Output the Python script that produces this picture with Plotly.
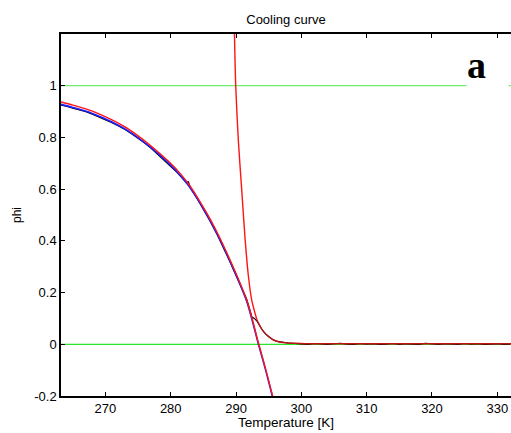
import plotly.graph_objects as go

# ---- data ----
T_fit = [263.2, 265, 268, 271, 273.3, 276.8, 279.9, 281.5, 283, 285.5, 287, 288, 290.1, 291.6, 292.5, 293.4, 294.5, 295.6]
phi_blue = [0.928, 0.916, 0.893, 0.860, 0.828, 0.764, 0.695, 0.652, 0.604, 0.502, 0.432, 0.380, 0.262, 0.168, 0.090, 0.003, -0.097, -0.205]
phi_red_fit = [0.937, 0.925, 0.902, 0.868, 0.836, 0.771, 0.702, 0.659, 0.611, 0.508, 0.438, 0.386, 0.268, 0.174, 0.096, 0.008, -0.092, -0.200]

T_steep = [289.72, 289.95, 290.35, 290.87, 291.4, 291.9, 292.4, 293.2, 294.2, 295.7, 296.5, 297.5, 299.0, 301.0, 305.0, 315.0, 332.1]
phi_steep = [1.25, 1.0, 0.79, 0.597, 0.403, 0.262, 0.171, 0.094, 0.049, 0.017, 0.010, 0.006, 0.004, 0.002, 0.002, 0.002, 0.002]

T_data = [263.2, 264, 265, 266, 267, 268, 269, 270, 271, 272, 273, 274, 275, 276, 277, 278, 279, 280, 281, 282,
          282.5, 282.7, 283, 284, 285, 286, 287, 288, 289, 290, 291, 291.6, 292.1, 292.4, 292.8, 293.2, 293.9,
          294.5, 295, 295.7, 296.5, 297.2, 298, 299,
          300, 301, 302, 303, 304, 305, 306, 307, 308, 309, 310, 311, 312, 313, 314, 315, 316, 317, 318, 319,
          320, 321, 322, 323, 324, 325, 326, 327, 328, 329, 330, 331, 332]
phi_data = [0.925, 0.921, 0.913, 0.907, 0.900, 0.890, 0.880, 0.869, 0.857, 0.844, 0.831, 0.814, 0.797, 0.778, 0.758, 0.735, 0.713, 0.690, 0.664, 0.636,
            0.624, 0.630, 0.604, 0.566, 0.524, 0.478, 0.430, 0.378, 0.323, 0.266, 0.208, 0.176, 0.135, 0.107, 0.100, 0.090, 0.060,
            0.040, 0.030, 0.017, 0.010, 0.007, 0.005, 0.003,
            0.002, 0.000, 0.003, 0.001, 0.000, 0.002, 0.004, 0.001, 0.000, 0.003, 0.001, 0.002, 0.000, 0.001, 0.003, 0.000, 0.002, 0.001, 0.000, 0.004,
            0.001, 0.000, 0.002, 0.001, 0.000, 0.003, 0.001, 0.002, 0.000, 0.001, 0.002, 0.000, 0.001]

x_range = [263.2, 332.1]
y_range = [-0.2, 1.2]
phi_levels = [0, 1]
x_ticks = [270, 280, 290, 300, 310, 320, 330]
y_ticks = [-0.2, 0, 0.2, 0.4, 0.6, 0.8, 1]
y_ticktext = ["-0.2", "0", "0.2", "0.4", "0.6", "0.8", "1"]

FONT = "Arial, 'Liberation Sans', sans-serif"

fig = go.Figure()

# green reference levels
fig.add_trace(go.Scatter(x=x_range, y=[phi_levels[1]] * 2, mode="lines",
                         line=dict(color="rgb(110,240,110)", width=1.2), hoverinfo="skip"))
fig.add_trace(go.Scatter(x=x_range, y=[phi_levels[0]] * 2, mode="lines",
                         line=dict(color="rgb(40,230,40)", width=1.2), hoverinfo="skip"))

# measured data (black)
fig.add_trace(go.Scatter(x=T_data, y=phi_data, mode="lines",
                         line=dict(color="black", width=1.2)))
# fits
fig.add_trace(go.Scatter(x=T_fit, y=phi_blue, mode="lines", line_shape="spline",
                         line=dict(color="rgb(30,30,255)", width=1.6, smoothing=0.8)))
fig.add_trace(go.Scatter(x=T_fit, y=phi_red_fit, mode="lines", line_shape="spline",
                         line=dict(color="rgb(255,20,20)", width=1.4, smoothing=0.8)))
# steep red branch
n_bright = 7
fig.add_trace(go.Scatter(x=T_steep[:n_bright + 1], y=phi_steep[:n_bright + 1], mode="lines", line_shape="spline",
                         line=dict(color="rgb(255,20,20)", width=1.4, smoothing=0.7)))
fig.add_trace(go.Scatter(x=T_steep[n_bright:], y=phi_steep[n_bright:], mode="lines", line_shape="spline",
                         line=dict(color="rgb(190,20,20)", width=1.4, smoothing=0.7)))

fig.update_layout(
    width=511, height=433,
    margin=dict(l=61, r=0, t=34, b=37),
    paper_bgcolor="white", plot_bgcolor="white",
    showlegend=False,
    font=dict(family=FONT, size=13, color="black"),
    title=dict(text="Cooling curve", x=0.5, xref="paper", xanchor="center",
               y=1 - 19 / 433, yref="container", yanchor="middle",
               font=dict(family=FONT, size=13, color="black")),
    xaxis=dict(range=x_range, tickvals=x_ticks, ticks="inside", ticklen=4, tickcolor="black",
               showline=True, linecolor="black", linewidth=1.5, mirror="ticks",
               showgrid=False, zeroline=False, tickfont=dict(size=13)),
    yaxis=dict(range=y_range, tickvals=y_ticks, ticktext=y_ticktext, ticks="inside", ticklen=4,
               tickcolor="black", showline=True, linecolor="black", linewidth=1.5, mirror=False,
               showgrid=False, zeroline=False, tickfont=dict(size=13)),
    annotations=[
        dict(text="Temperature [K]", x=0.5, xref="paper", y=-26 / 362, yref="paper",
             xanchor="center", yanchor="middle", showarrow=False, font=dict(size=13.5)),
        dict(text="phi", textangle=-90, x=-44 / 450, xref="paper", y=0.5, yref="paper",
             xanchor="center", yanchor="middle", showarrow=False, font=dict(size=12)),
        dict(text="<b>a</b>", x=328.5, xref="x", y=1.08, yref="y", xanchor="center", yanchor="middle",
             showarrow=False, bgcolor="white", width=41, height=44, align="left", borderpad=0,
             font=dict(family="'Liberation Serif', 'Times New Roman', serif", size=38, color="black")),
    ],
)

fig.write_html("out.html")
